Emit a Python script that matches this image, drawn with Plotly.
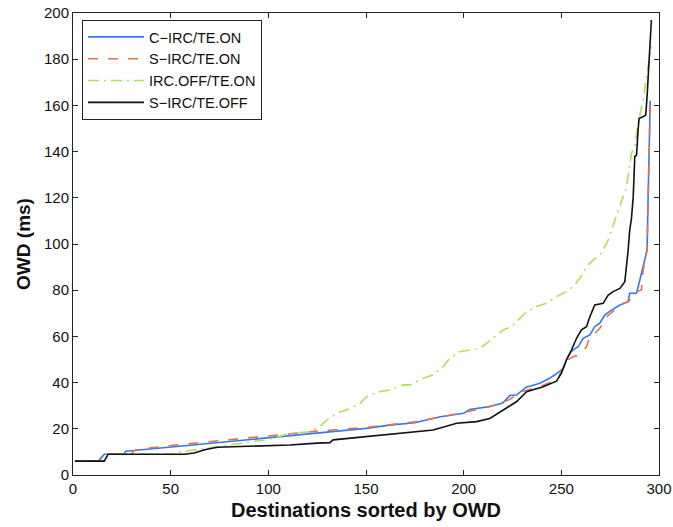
import plotly.graph_objects as go

# Per-destination one-way delay (ms), destinations sorted by OWD; vertices of each curve
c_irc_x = [1, 13, 16, 26, 27, 40, 60, 80, 100, 111, 125, 137, 150, 162, 175, 188, 200, 203,
           213, 220, 223.6, 227, 232, 239, 244, 248.4, 251, 252.6, 254.4, 256, 258.6, 261.2,
           264.6, 267.1, 269.7, 272.3, 275.7, 280, 284.2, 285, 288.5, 290.2, 292.7, 293.9,
           294.4, 295.3, 295.5]
c_irc_y = [6, 6, 9, 9, 10.3, 11.2, 12.9, 14.5, 16.1, 17.2, 18.3, 19.3, 20.2, 21.6, 22.6, 25.2,
           26.7, 28.4, 29.6, 31.2, 34.4, 34.6, 38, 39.7, 41.9, 44.3, 46.2, 49.8, 52.7, 54.1,
           55.5, 59.2, 60.6, 64.2, 65.7, 69.3, 71.4, 73.6, 75, 78.7, 78.7, 84.4, 93.1, 97.4,
           119, 150, 162]

s_irc_x = [1, 16, 18, 30, 31, 40, 60, 80, 100, 125, 150, 175, 200, 215, 223, 230, 240, 247.5,
           249.2, 252.6, 256, 258.6, 262.9, 264.6, 267.1, 269.7, 273.1, 276.5, 281.6, 284.2,
           288.5, 291, 291.9, 293.9, 294.6, 295.5]
s_irc_y = [6, 6, 9, 9, 10.5, 11.8, 13.6, 15.3, 16.9, 19.0, 20.6, 23.0, 27.0, 30.0, 32.5, 36.1,
           38.6, 41.1, 43.3, 49.5, 51.2, 51.9, 55.5, 59.9, 61.3, 63.5, 68.5, 70.7, 74.3, 75,
           79.4, 80.1, 88.7, 97.4, 125, 160]

irc_off_x = [1, 16, 18, 50, 55, 65, 80, 100, 111, 121, 126.4, 129, 135, 140, 147, 150.3, 157,
             162, 169, 172.5, 179.3, 184.4, 189.5, 192.9, 198, 203.2, 208.3, 211.7, 215.1,
             220.2, 224.5, 228.8, 232.2, 237.3, 242.4, 247.5, 251, 256, 259.5, 262.9, 267.1,
             269.7, 274, 275.7, 279.1, 283.4, 285.9, 287.6, 289.3, 291.9, 294.4, 296.1]
irc_off_y = [6, 6, 9, 9, 10, 11.3, 13, 15.4, 18, 18.7, 20.9, 23.1, 26.7, 28.1, 31, 33.9, 36.1,
             36.8, 39, 39, 41.9, 43.3, 46.9, 50.5, 53.4, 54.1, 54.8, 57, 59.2, 62.8, 64.2,
             67.8, 70.7, 72.9, 74.3, 77.2, 78.7, 81.5, 85.2, 90.2, 93.8, 95, 101.7, 106,
             114.7, 124.8, 139.3, 142.2, 152.2, 162.3, 176.8, 185.5]

te_off_x = [1, 16, 18, 57, 62, 68, 74, 100, 111, 125, 131.5, 133.2, 150, 165.7, 184.4, 196.4,
            206.6, 213.4, 220.2, 227, 232.2, 240.7, 247.5, 250, 252.6, 255.2, 257.8, 260.3,
            262.9, 264.6, 267.1, 271.4, 274, 276.5, 280, 282.5, 284.2, 285, 285.9, 286.8,
            287.6, 288.5, 289.3, 289.8, 291.9, 293.2, 293.9, 294.9, 296.1]
te_off_y = [6, 6, 9, 9, 9.5, 11, 12, 12.6, 13, 13.8, 14, 15.2, 16.6, 18, 19.5, 22.4, 23.1,
            24.5, 28.1, 31.7, 36.1, 38.2, 40.6, 44, 49.8, 54.1, 59.2, 62.8, 64.2, 68.5, 73.6,
            74.3, 77.9, 79.4, 80.8, 83.7, 97.4, 106, 111, 120.5, 137.8, 138.5, 149.4, 154.4,
            155.1, 155.8, 163.8, 176.8, 197]

series_names = ["C\u2212IRC/TE.ON", "S\u2212IRC/TE.ON", "IRC.OFF/TE.ON", "S\u2212IRC/TE.OFF"]
x_ticks = [0, 50, 100, 150, 200, 250, 300]
y_ticks = [0, 20, 40, 60, 80, 100, 120, 140, 160, 180, 200]

FONT = "Liberation Sans, Arial, Helvetica, sans-serif"

fig = go.Figure()
fig.add_trace(go.Scatter(x=c_irc_x, y=c_irc_y, mode="lines", name=series_names[0],
                         line=dict(color="#3677f0", width=1.6)))
fig.add_trace(go.Scatter(x=s_irc_x, y=s_irc_y, mode="lines", name=series_names[1],
                         line=dict(color="#e0744a", width=1.6, dash="10px,10px")))
fig.add_trace(go.Scatter(x=irc_off_x, y=irc_off_y, mode="lines", name=series_names[2],
                         line=dict(color="#a9e35a", width=1.6, dash="11px,5px,2px,5px")))
fig.add_trace(go.Scatter(x=te_off_x, y=te_off_y, mode="lines", name=series_names[3],
                         line=dict(color="#111111", width=1.6)))

axis_common = dict(
    showline=True, linecolor="#222222", linewidth=1, mirror="ticks",
    ticks="inside", ticklen=5, tickwidth=1, tickcolor="#222222",
    showgrid=False, zeroline=False, automargin=False,
    tickfont=dict(family=FONT, size=15, color="#111111"),
)

fig.update_layout(
    width=673, height=527,
    margin=dict(l=73, r=14, t=13, b=52, autoexpand=False),
    paper_bgcolor="white", plot_bgcolor="white",
    font=dict(family=FONT, color="#111111"),
    xaxis=dict(range=[0, 300], tickvals=x_ticks, **axis_common,
               title=dict(text="<b>Destinations sorted by OWD</b>",
                          font=dict(family=FONT, size=20), standoff=6)),
    yaxis=dict(range=[0, 200], tickvals=y_ticks, **axis_common,
               title=dict(text="<b>OWD (ms)</b>",
                          font=dict(family=FONT, size=19), standoff=8)),
    legend=dict(x=0.0154, y=0.985, xanchor="left", yanchor="top",
                bgcolor="white", bordercolor="#222222", borderwidth=1,
                font=dict(family=FONT, size=14.5, color="#111111"),
                itemwidth=56, tracegroupgap=0),
    showlegend=True,
)

fig.write_html("out.html")
